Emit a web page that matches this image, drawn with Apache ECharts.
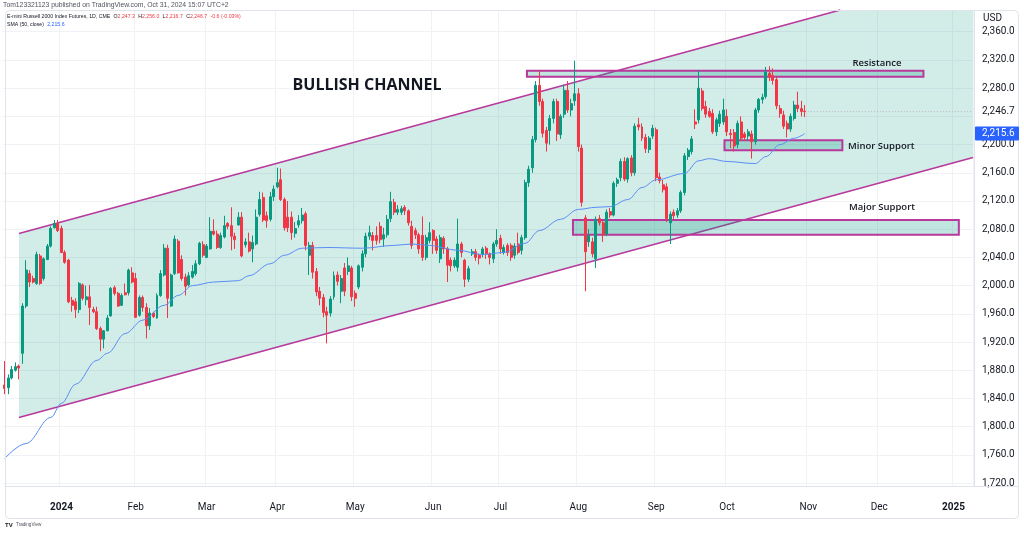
<!DOCTYPE html>
<html>
<head>
<meta charset="utf-8">
<script src="https://cdn.jsdelivr.net/npm/echarts/dist/echarts.min.js"></script>
<style>
html,body{margin:0;padding:0;background:#fff;}
#chart{width:1024px;height:534px;}
</style>
</head>
<body>
<div id="chart"></div>
<script>
// ---------- DATA ----------
const holidays = ['2023-12-25','2024-01-01','2024-01-15','2024-02-19','2024-03-29','2024-05-27','2024-06-19','2024-07-04','2024-09-02','2024-11-28','2024-12-25','2025-01-01'];
const firstDay = '2023-12-07';
const dayCount = 274; // visible bars incl. future space

const opens = [1859,1855,1869,1880,1886,1904,1971,2017,2010,2003,2042,2010,2037,2056,2082,2088,2081,2047,2036,1979,1977,1966,2001,1980,1984,1966,1963,1939,1924,1936,1957,1997,1989,1972,1990,1990,2018,2010,1958,1983,1969,1943,1961,1954,1986,2015,2053,1971,2017,2063,2037,2012,2001,2012,2017,2031,2058,2040,2052,2077,2073,2054,2069,2088,2085,2070,2086,2097,2058,2062,2052,2059,2101,2125,2099,2094,2126,2140,2150,2122,2097,2097,2074,2086,2092,2102,2043,2057,2020,1992,1983,1963,1961,1984,2015,1992,2025,2020,2025,1989,1998,2026,2045,2070,2071,2071,2084,2066,2072,2095,2118,2104,2104,2111,2106,2084,2078,2072,2071,2040,2064,2078,2066,2038,2067,2052,2036,2028,2026,2059,2036,2009,2045,2048,2043,2044,2053,2045,2038,2059,2067,2047,2057,2057,2043,2059,2050,2068,2146,2167,2207,2284,2261,2220,2220,2237,2261,2214,2243,2277,2249,2262,2272,2195,2096,2062,2062,2038,2095,2089,2073,2105,2100,2145,2153,2176,2151,2181,2160,2228,2225,2210,2193,2212,2221,2154,2143,2140,2089,2104,2100,2106,2132,2183,2190,2232,2235,2276,2254,2247,2244,2218,2230,2232,2240,2216,2217,2200,2232,2215,2212,2215,2204,2249,2264,2268,2301,2298,2292,2251,2242,2230,2222,2237,2256,2251,2247.3];
const highs = [1893,1874,1886,1891,1888,1975,2036,2022,2014,2048,2045,2040,2059,2084,2093,2093,2085,2050,2038,1984,1982,2005,2003,2000,2001,1970,1970,1942,1937,1958,1998,2000,1991,1989,2003,2024,2026,2018,1986,1986,1975,1968,1963,1989,2022,2059,2058,2017,2071,2066,2043,2017,2019,2029,2036,2062,2063,2059,2097,2094,2078,2075,2099,2090,2111,2075,2104,2104,2067,2075,2071,2108,2133,2132,2105,2133,2142,2167,2166,2125,2120,2105,2090,2100,2110,2105,2062,2062,2025,1998,1988,1970,1985,2020,2020,2015,2032,2040,2028,1993,2030,2050,2075,2085,2076,2084,2090,2082,2100,2133,2123,2114,2113,2114,2108,2092,2082,2075,2098,2072,2090,2080,2070,2072,2070,2055,2040,2040,2095,2062,2038,2028,2052,2052,2045,2055,2056,2047,2062,2080,2072,2058,2060,2060,2060,2075,2072,2150,2170,2212,2290,2305,2265,2225,2242,2265,2265,2243,2285,2290,2265,2319,2280,2200,2100,2080,2068,2098,2100,2092,2108,2110,2148,2153,2180,2182,2182,2185,2230,2238,2230,2215,2212,2228,2224,2160,2150,2145,2105,2108,2110,2135,2188,2195,2212,2250,2305,2280,2262,2252,2250,2238,2248,2265,2250,2222,2222,2234,2240,2218,2222,2220,2252,2266,2272,2310,2311,2308,2296,2256,2248,2234,2244,2262,2275,2262,2256];
const lows = [1846,1846,1867,1878,1867,1889,1968,1998,2003,2001,2001,2007,2036,2054,2081,2076,2046,2031,1975,1963,1954,1961,1979,1972,1944,1961,1937,1907,1911,1935,1956,1986,1970,1971,1986,1986,2003,1954,1956,1963,1925,1937,1954,1953,1984,2013,1954,1970,2015,2017,2007,1986,1999,2010,2014,2029,2040,2039,2051,2071,2052,2052,2067,2080,2050,2052,2085,2040,2054,2047,2033,2057,2098,2090,2082,2091,2120,2138,2120,2078,2076,2065,2068,2082,2088,2050,2015,2010,1985,1972,1955,1918,1956,1980,2000,1975,1985,2015,1978,1970,1995,2020,2040,2065,2050,2058,2060,2055,2068,2090,2100,2100,2100,2100,2085,2052,2066,2045,2035,2036,2060,2045,2045,2032,2045,2005,2020,2025,2020,2040,1998,2005,2042,2035,2030,2040,2038,2030,2032,2055,2045,2044,2042,2035,2038,2044,2044,2065,2140,2160,2203,2255,2210,2190,2200,2230,2205,2208,2238,2245,2240,2255,2190,2112,1992,2055,2040,2025,2085,2062,2070,2096,2098,2140,2148,2148,2146,2155,2156,2220,2205,2188,2188,2208,2148,2145,2132,2090,2059,2094,2096,2103,2128,2178,2186,2222,2230,2248,2238,2238,2215,2212,2225,2228,2212,2195,2190,2195,2205,2205,2205,2180,2200,2245,2258,2265,2290,2285,2250,2238,2222,2210,2218,2234,2246,2240,2239];
const closes = [1854,1869,1881,1885,1883,1971,2022,2005,2005,2044,2003,2038,2056,2081,2088,2078,2047,2033,1977,1972,1966,2003,1982,1984,1969,1963,1939,1924,1936,1954,1996,1989,1971,1986,1987,2022,2005,1955,1983,1969,1943,1961,1956,1986,2017,2053,1982,2015,2066,2018,2010,1999,2014,2020,2031,2060,2043,2056,2077,2073,2054,2071,2085,2084,2070,2065,2097,2042,2062,2049,2061,2097,2122,2093,2092,2126,2137,2146,2122,2082,2082,2075,2081,2092,2100,2057,2057,2019,1991,1982,1962,1958,1981,2014,2006,2010,1992,2028,1984,1982,2028,2045,2070,2075,2064,2064,2065,2072,2094,2119,2104,2108,2109,2106,2089,2057,2072,2052,2040,2068,2075,2064,2050,2068,2052,2029,2028,2036,2059,2047,2009,2024,2048,2040,2039,2052,2045,2040,2059,2064,2052,2054,2047,2040,2056,2047,2068,2146,2165,2207,2284,2261,2216,2202,2237,2261,2215,2240,2277,2249,2258,2272,2197,2118,2048,2071,2045,2094,2089,2072,2104,2100,2145,2150,2176,2151,2180,2160,2226,2225,2209,2194,2209,2223,2153,2149,2136,2095,2101,2099,2106,2132,2184,2192,2208,2229,2280,2251,2243,2240,2218,2235,2243,2249,2218,2214,2198,2230,2209,2210,2218,2204,2249,2264,2267,2303,2296,2291,2255,2244,2226,2222,2240,2256,2251,2247,2246.7];

// SMA (50, close) at sample bars
const smaBar = [0,6,13,16,20,26,29,34,39,45,49,53,59,66,69,75,79,84,91,101,110,115,120,128,135,141,147,151,157,162,167,171,176,180,184,192,196,199,204,212,215,219,223,226];
const smaVal = [1755,1776,1813,1833,1860,1894,1904,1932,1951,1972,1986,2000,2005,2007,2014,2031,2043,2053,2054,2053,2057,2059,2057,2050,2044,2047,2060,2078,2094,2108,2111,2112,2122,2139,2150,2159,2177,2180,2176,2173,2183,2200,2209,2215.6];

// Drawings (bar index, price)
const channelBars = [4, 273.5];
const channelUpper = [2074, 2442];
const channelLower = [1813, 2181.5];
const resistanceBox = [147.5, 259.5, 2296, 2304.5];
const minorSupportBox = [203.3, 236.6, 2192, 2206];
const majorSupportBox = [160.5, 269.5, 2072, 2093];
const lastPrice = 2246.7;
const smaLast = 2215.6;
const gridTicks = [1720,1760,1800,1840,1880,1920,1960,2000,2040,2080,2120,2160,2200,2240,2280,2320,2360];
const priceLabels = [1720,1760,1800,1840,1880,1920,1960,2000,2040,2080,2120,2160,2200,2280,2320,2360];
const monthNames = ['Jan','Feb','Mar','Apr','May','Jun','Jul','Aug','Sep','Oct','Nov','Dec'];

// ---------- BUILD ----------
const dates = [];
(function(){
  const d = new Date(firstDay + 'T00:00:00Z');
  while (dates.length < dayCount) {
    const s = d.toISOString().slice(0,10), wd = d.getUTCDay();
    if (wd !== 0 && wd !== 6 && holidays.indexOf(s) < 0) dates.push(s);
    d.setUTCDate(d.getUTCDate() + 1);
  }
})();
const isMonthStart = dates.map((s,i) => i > 0 && s.slice(0,7) !== dates[i-1].slice(0,7));
const candleData = opens.map((o,i) => [o, closes[i], lows[i], highs[i]]);
const smaData = smaBar.map((b,i) => [b, smaVal[i]]);

const MAG = '#b8389c';
const fmt = v => v.toLocaleString('en-US', {minimumFractionDigits:1, maximumFractionDigits:1});

function clipPoly(pts, r) {
  const x0=r.x, x1=r.x+r.width, y0=r.y, y1=r.y+r.height;
  const planes = [
    [p=>p[0]>=x0, (a,b)=>{const t=(x0-a[0])/(b[0]-a[0]); return [x0, a[1]+t*(b[1]-a[1])];}],
    [p=>p[0]<=x1, (a,b)=>{const t=(x1-a[0])/(b[0]-a[0]); return [x1, a[1]+t*(b[1]-a[1])];}],
    [p=>p[1]>=y0, (a,b)=>{const t=(y0-a[1])/(b[1]-a[1]); return [a[0]+t*(b[0]-a[0]), y0];}],
    [p=>p[1]<=y1, (a,b)=>{const t=(y1-a[1])/(b[1]-a[1]); return [a[0]+t*(b[0]-a[0]), y1];}]
  ];
  let out = pts;
  for (const [inside, inter] of planes) {
    const inp = out; out = [];
    for (let i=0;i<inp.length;i++) {
      const cur = inp[i], prev = inp[(i+inp.length-1)%inp.length];
      if (inside(cur)) { if (!inside(prev)) out.push(inter(prev,cur)); out.push(cur); }
      else if (inside(prev)) out.push(inter(prev,cur));
    }
  }
  return out;
}
function clipSeg(a, b, r) {
  let t0=0, t1=1; const dx=b[0]-a[0], dy=b[1]-a[1];
  const p=[-dx,dx,-dy,dy], q=[a[0]-r.x, r.x+r.width-a[0], a[1]-r.y, r.y+r.height-a[1]];
  for (let i=0;i<4;i++) {
    if (p[i]===0) { if (q[i]<0) return null; }
    else { const t=q[i]/p[i];
      if (p[i]<0) { if (t>t1) return null; if (t>t0) t0=t; }
      else { if (t<t0) return null; if (t<t1) t1=t; } }
  }
  return [[a[0]+t0*dx, a[1]+t0*dy], [a[0]+t1*dx, a[1]+t1*dy]];
}

function renderDrawing(params, api) {
  const r = params.coordSys;
  const bw = api.size([1,0])[0];
  const P = (idx, v) => { const i0 = Math.floor(idx); const p = api.coord([i0, v]); return [p[0] + (idx - i0)*bw, p[1]]; };
  const k = api.value(0);
  if (k === 0) {
    const a = P(channelBars[0], channelUpper[0]), b = P(channelBars[1], channelUpper[1]);
    const c = P(channelBars[1], channelLower[1]), d = P(channelBars[0], channelLower[0]);
    const children = [{type:'polygon', shape:{points: clipPoly([a,b,c,d], r)}, style:{fill:'rgba(8,153,129,0.18)'}}];
    [[a,b],[d,c]].forEach(s => { const cs = clipSeg(s[0], s[1], r); if (cs) children.push({type:'line', shape:{x1:cs[0][0],y1:cs[0][1],x2:cs[1][0],y2:cs[1][1]}, style:{stroke:MAG, lineWidth:1.6}}); });
    return {type:'group', children};
  }
  if (k >= 1 && k <= 3) {
    const box = [resistanceBox, minorSupportBox, majorSupportBox][k-1];
    const p1 = P(box[0], box[3]), p2 = P(box[1], box[2]);
    return {type:'rect', shape:{x:p1[0], y:p1[1], width:p2[0]-p1[0], height:p2[1]-p1[1]}, style:{fill:'rgba(8,153,129,0.25)', stroke:MAG, lineWidth:2}};
  }
  if (k === 4) {
    const p1 = P(opens.length - 1, lastPrice), p2 = P(channelBars[1], lastPrice);
    return {type:'line', shape:{x1:p1[0]+3, y1:p1[1], x2:p2[0], y2:p2[1]}, style:{stroke:'#b2b5be', lineWidth:1, lineDash:[1,2]}};
  }
  return null;
}

const chart = echarts.init(document.getElementById('chart'), null, {renderer:'canvas'});
const GRID = {left:3, right:51, top:10, bottom:48};
chart.setOption({
  animation: false,
  backgroundColor: '#ffffff',
  grid: GRID,
  xAxis: {
    type: 'category', data: dates, boundaryGap: true,
    axisLine: {show: false}, axisTick: {show: false},
    axisLabel: {
      interval: (i) => isMonthStart[i], margin: 16,
      color: '#131722', fontSize: 10, fontFamily: 'Roboto',
      formatter: (v) => { const m = +v.slice(5,7); return m === 1 ? '{y|' + v.slice(0,4) + '}' : monthNames[m-1]; },
      rich: {y: {fontWeight: 'bold', fontSize: 10, fontFamily: 'Roboto', color: '#131722'}}
    },
    splitLine: {show: true, interval: (i) => isMonthStart[i], lineStyle: {color: '#f0f2f6', width: 1}}
  },
  yAxis: {
    type: 'value', position: 'right', min: 1715.8, max: 2390.8, scale: true,
    axisLine: {show: false},
    axisTick: {show: false, customValues: gridTicks},
    axisLabel: {customValues: priceLabels, formatter: fmt, color: '#131722', fontSize: 10, fontFamily: 'Roboto', margin: 9},
    splitLine: {show: true, lineStyle: {color: '#f0f2f6', width: 1}}
  },
  series: [
    {
      type: 'custom', name: 'drawings', z: 1, silent: true,
      data: [[0,2000],[1,2000],[2,2000],[3,2000],[4,2000]],
      encode: {x: 0, y: 1},
      renderItem: renderDrawing
    },
    {
      type: 'candlestick', name: 'RTY1!', z: 3, data: candleData, barWidth: '70%',
      itemStyle: {color: '#089981', color0: '#F23645', borderColor: '#089981', borderColor0: '#F23645', borderWidth: 1}
    },
    {
      type: 'line', name: 'SMA 50', z: 4, data: smaData, symbol: 'none', smooth: 0.35, smoothMonotone: 'x',
      lineStyle: {color: '#5b8cf5', width: 1}
    }
  ]
});

const ySma = chart.convertToPixel({yAxisIndex: 0}, smaLast);
const yLast = chart.convertToPixel({yAxisIndex: 0}, lastPrice);
const small = '"Liberation Sans", Arial, sans-serif';
chart.setOption({
  graphic: [
    {type:'rect', shape:{x:5.5, y:10.5, width:1013, height:508, r:4}, style:{fill:'none', stroke:'#e0e3eb', lineWidth:1}, silent:true, z:50},
    {type:'line', shape:{x1:5, y1:486.5, x2:1019, y2:486.5}, style:{stroke:'#e0e3eb', lineWidth:1}, silent:true, z:50},
    {type:'line', shape:{x1:974.5, y1:10, x2:974.5, y2:486}, style:{stroke:'#e0e3eb', lineWidth:1}, silent:true, z:50},
    {type:'text', x:3, y:5.5, style:{text:'Tom123321123 published on TradingView.com, Oct 31, 2024 15:07 UTC+2', font:'6.8px ' + small, fill:'#50535e', verticalAlign:'middle'}, silent:true, z:50},
    {type:'text', x:7, y:17, style:{
      text:'{d|E-mini Russell 2000 Index Futures, 1D, CME} {d|O}{r|2,247.3} {d|H}{r|2,256.0} {d|L}{r|2,216.7} {d|C}{r|2,246.7} {r|-0.6 (-0.03%)}',
      rich:{d:{fill:'#131722', fontSize:5.2, fontFamily:'Liberation Sans'}, r:{fill:'#F23645', fontSize:5.2, fontFamily:'Liberation Sans'}},
      verticalAlign:'middle'}, silent:true, z:50},
    {type:'text', x:7, y:24.5, style:{
      text:'{d|SMA (50, close)} {b|2,215.6}',
      rich:{d:{fill:'#131722', fontSize:5.2, fontFamily:'Liberation Sans'}, b:{fill:'#2962FF', fontSize:5.2, fontFamily:'Liberation Sans'}},
      verticalAlign:'middle'}, silent:true, z:50},
    {type:'text', x:983, y:18, style:{text:'USD', font:'10px Roboto', fill:'#131722', verticalAlign:'middle'}, silent:true, z:50},
    {type:'text', x:982, y:yLast, style:{text:fmt(lastPrice), font:'10px Roboto', fill:'#131722', verticalAlign:'middle'}, silent:true, z:50},
    {type:'rect', shape:{x:975, y:ySma-7, width:44, height:14, r:1}, style:{fill:'#2962FF'}, silent:true, z:51},
    {type:'text', x:982, y:ySma, style:{text:fmt(smaLast), font:'10px Roboto', fill:'#ffffff', verticalAlign:'middle'}, silent:true, z:52},
    {type:'text', x:367, y:85, style:{text:'BULLISH CHANNEL', font:'bold 16px "Open Sans"', fill:'#131722', align:'center', verticalAlign:'middle'}, silent:true, z:50},
    {type:'text', x:877, y:63, style:{text:'Resistance', font:'600 9.5px "Open Sans"', fill:'#131722', align:'center', verticalAlign:'middle'}, silent:true, z:50},
    {type:'text', x:848, y:146, style:{text:'Minor Support', font:'600 9.5px "Open Sans"', fill:'#131722', align:'left', verticalAlign:'middle'}, silent:true, z:50},
    {type:'text', x:882, y:207, style:{text:'Major Support', font:'600 9.5px "Open Sans"', fill:'#131722', align:'center', verticalAlign:'middle'}, silent:true, z:50},
    {type:'text', x:5, y:525, style:{text:'{l|TV} {t|TradingView}', rich:{l:{fontSize:6, fontWeight:'bold', fill:'#131722', fontFamily:'Liberation Sans'}, t:{fontSize:4.6, fill:'#50535e', fontFamily:'Liberation Sans'}}, verticalAlign:'middle'}, silent:true, z:50}
  ]
});
</script>
</body>
</html>
